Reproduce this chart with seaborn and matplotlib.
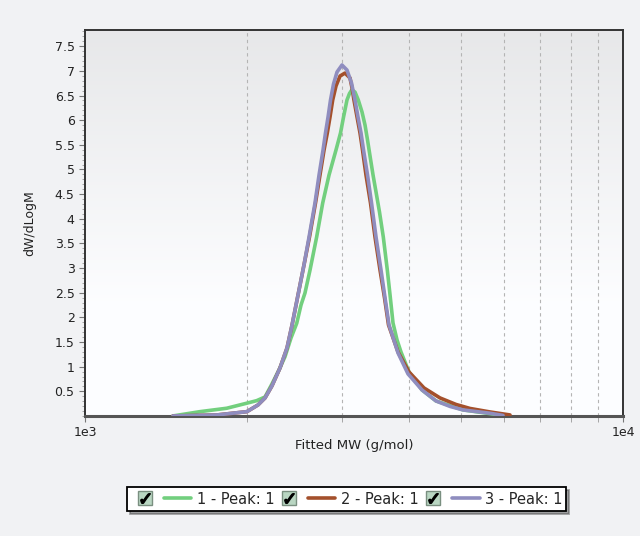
import numpy as np
import pandas as pd
import seaborn as sns
import matplotlib.pyplot as plt
from matplotlib.lines import Line2D
from matplotlib.legend_handler import HandlerTuple
from matplotlib.ticker import MultipleLocator, FixedLocator, NullFormatter, FormatStrFormatter

# data (MW in g/mol, dW/dLogM)
mw_1 = [1457, 1636, 1834, 1998, 2085, 2161, 2226, 2294, 2354, 2415, 2475, 2521,
        2564, 2620, 2696, 2766, 2842, 2928, 2985, 3024, 3069, 3102, 3132, 3176,
        3221, 3273, 3315, 3351, 3387, 3431, 3475, 3527, 3585, 3647, 3690, 3737,
        3802, 3867, 4002, 4231, 4492, 5043, 5984]
w_1 = [0.0, 0.087, 0.156, 0.258, 0.31, 0.385, 0.649, 0.933, 1.203, 1.582, 1.88, 2.252,
       2.495, 2.961, 3.637, 4.32, 4.888, 5.396, 5.74, 6.065, 6.41, 6.542, 6.613, 6.572,
       6.41, 6.166, 5.903, 5.598, 5.274, 4.888, 4.544, 4.138, 3.631, 2.961, 2.454, 1.886,
       1.542, 1.298, 0.892, 0.527, 0.304, 0.122, 0.01]

mw_2 = [1457, 1759, 2000, 2097, 2161, 2226, 2304, 2374, 2426, 2510, 2553, 2614,
        2682, 2734, 2782, 2821, 2854, 2887, 2928, 2979, 3043, 3109, 3136, 3162,
        3204, 3245, 3280, 3329, 3394, 3460, 3535, 3604, 3666, 3818, 4002, 4267,
        4570, 4894, 5195, 5659, 6166]
w_2 = [0.0, 0.02, 0.087, 0.223, 0.365, 0.609, 0.974, 1.379, 1.846, 2.657, 3.063, 3.631,
       4.32, 4.888, 5.396, 5.74, 6.065, 6.41, 6.694, 6.897, 6.957, 6.856, 6.653, 6.41,
       6.065, 5.74, 5.396, 4.888, 4.32, 3.631, 2.961, 2.394, 1.846, 1.298, 0.892, 0.568,
       0.365, 0.233, 0.152, 0.081, 0.02]

mw_3 = [1457, 1759, 2000, 2097, 2161, 2226, 2304, 2374, 2426, 2510, 2553, 2609,
        2676, 2723, 2770, 2799, 2830, 2860, 2897, 2941, 3004, 3069, 3129, 3176,
        3217, 3259, 3294, 3351, 3409, 3475, 3550, 3612, 3674, 3818, 3985, 4231,
        4492, 4770, 5043, 5659, 5984]
w_3 = [0.0, 0.02, 0.087, 0.223, 0.365, 0.609, 0.974, 1.379, 1.846, 2.657, 3.063, 3.631,
       4.32, 4.888, 5.396, 5.74, 6.065, 6.41, 6.734, 6.978, 7.12, 7.018, 6.755, 6.41,
       6.065, 5.74, 5.396, 4.888, 4.32, 3.631, 2.961, 2.394, 1.846, 1.278, 0.852, 0.527,
       0.304, 0.193, 0.122, 0.055, 0.01]

labels = ["1 - Peak: 1", "2 - Peak: 1", "3 - Peak: 1"]
colors = ["#72cf7e", "#a4502c", "#8f8dbf"]

sns.set_style("white")
plt.rcParams["font.family"] = ["DejaVu Sans"]

fig = plt.figure(figsize=(6.4, 5.36), dpi=100, facecolor="#f1f2f4")
ax = fig.add_axes([0.1328, 0.224, 0.8406, 0.720])

# soft gray-to-white gradient behind the plot
grad = np.concatenate([np.linspace(0.915, 1.0, 180), np.ones(76)]).reshape(-1, 1)
ax.imshow(np.dstack([grad * 0.99, grad * 0.993, grad]), extent=[0, 1, 0, 1],
          transform=ax.transAxes, aspect="auto", origin="upper", zorder=0)

for mw, w, c in zip([mw_1, mw_2, mw_3], [w_1, w_2, w_3], colors):
    df = pd.DataFrame({"mw": mw, "w": w})
    sns.lineplot(data=df, x="mw", y="w", ax=ax, color=c, lw=2.6,
                 estimator=None, sort=False, legend=False, zorder=3,
                 solid_joinstyle="round", solid_capstyle="round")

ax.set_xscale("log")
ax.set_xlim(1000, 10000)
ax.set_ylim(0, 7.83)

ax.xaxis.set_major_locator(FixedLocator([1000, 10000]))
ax.set_xticklabels(["1e3", "1e4"])
ax.xaxis.set_minor_locator(FixedLocator([2000, 3000, 4000, 5000, 6000, 7000, 8000, 9000]))
ax.xaxis.set_minor_formatter(NullFormatter())
ax.grid(True, which="minor", axis="x", color="#b4b4b4", ls=(0, (3, 3)), lw=0.8)

ax.yaxis.set_major_locator(FixedLocator(np.arange(0.5, 7.6, 0.5)))
ax.yaxis.set_major_formatter(FormatStrFormatter("%g"))
ax.yaxis.set_minor_locator(MultipleLocator(0.1))
ax.tick_params(axis="both", which="major", direction="out", length=4,
               color="#777777", labelsize=9, labelcolor="#222222", left=True, bottom=True)
ax.tick_params(axis="y", which="minor", direction="out", length=2, color="#999999", left=True)
ax.tick_params(axis="x", which="minor", direction="out", length=4, color="#999999", bottom=True)

for s in ax.spines.values():
    s.set_color("#333333")
    s.set_linewidth(1.4)
ax.spines["bottom"].set_color("#555555")
ax.spines["bottom"].set_linewidth(2.2)

ax.set_xlabel("Fitted MW (g/mol)", fontsize=9.5, color="#222222", labelpad=0)
ax.set_ylabel("dW/dLogM", fontsize=9, color="#222222", labelpad=13)

handles = []
hmap = {}
for c in colors:
    box = Line2D([], [], ls="none", marker="s", markersize=10,
                 markerfacecolor="#b9d6c2", markeredgecolor="#7a8f80")
    tick = Line2D([], [], ls="none", marker=r"$\checkmark$", markersize=7, color="black")
    line = Line2D([], [], color=c, lw=2.6)
    h = ((box, tick), line)
    handles.append(h)
    hmap[h] = HandlerTuple(ndivide=None, pad=0.35)

leg = fig.legend(handles, labels, loc="center", bbox_to_anchor=(0.542, 0.069),
                 ncol=3, fontsize=10.5, frameon=True, fancybox=False, shadow=True,
                 handlelength=4.1, handletextpad=0.35, columnspacing=0.1,
                 borderpad=0.3, handler_map=hmap)
leg.get_frame().set_edgecolor("black")
leg.get_frame().set_linewidth(1.3)
leg.get_frame().set_facecolor("white")

fig.savefig("out.png", dpi=100, facecolor=fig.get_facecolor())
